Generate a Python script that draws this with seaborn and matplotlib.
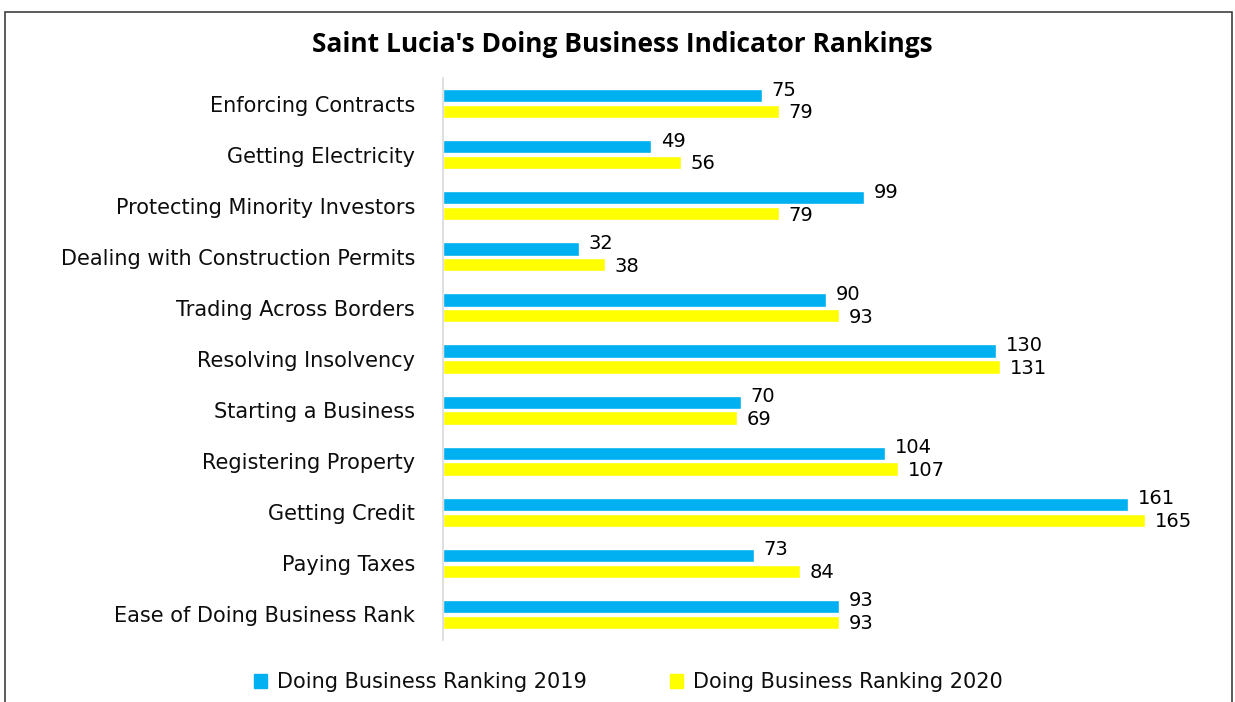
import seaborn as sns
import matplotlib.pyplot as plt
import pandas as pd
from matplotlib.patches import Rectangle

indicators = [
    "Enforcing Contracts",
    "Getting Electricity",
    "Protecting Minority Investors",
    "Dealing with Construction Permits",
    "Trading Across Borders",
    "Resolving Insolvency",
    "Starting a Business",
    "Registering Property",
    "Getting Credit",
    "Paying Taxes",
    "Ease of Doing Business Rank",
]
rank_2019 = [75, 49, 99, 32, 90, 130, 70, 104, 161, 73, 93]
rank_2020 = [79, 56, 79, 38, 93, 131, 69, 107, 165, 84, 93]
series = ["Doing Business Ranking 2019", "Doing Business Ranking 2020"]
colors = ["#00B0F0", "#FFFF00"]

df = pd.DataFrame({
    "Indicator": indicators * 2,
    "Rank": rank_2019 + rank_2020,
    "Series": [series[0]] * len(indicators) + [series[1]] * len(indicators),
})

sns.set_theme(style="white")
plt.rcParams['font.family'] = ['DejaVu Sans']

fig = plt.figure(figsize=(12.35, 7.02), dpi=100)
ax = fig.add_axes([0.3587, 0.0883, 0.62, 0.8006])

sns.barplot(data=df, y="Indicator", x="Rank", hue="Series", order=indicators,
            hue_order=series, palette=colors, orient="h", width=0.62, gap=0.16,
            saturation=1, ax=ax, legend=True)

# value labels: 2019 nudged up, 2020 nudged down
for cont, dy in zip(ax.containers, [4, -1]):
    for bar in cont:
        w = bar.get_width()
        yc = bar.get_y() + bar.get_height() / 2
        ax.annotate(f"{int(w)}", xy=(w, yc), xytext=(7, dy), textcoords="offset points",
                    ha="left", va="center", fontsize=14, color="black")

ax.set_xlim(0, 180)
ax.set_ylim(10.5, -0.5)
ax.set_xlabel("")
ax.set_ylabel("")
ax.set_xticks([])
ax.tick_params(axis="y", length=0, labelsize=15, pad=20, colors="#0d0d0d")
for s in ["top", "right", "bottom"]:
    ax.spines[s].set_visible(False)
ax.spines["left"].set_color("#D9D9D9")
ax.spines["left"].set_linewidth(1.2)

ax.get_legend().remove()
handles = [Rectangle((0, 0), 1, 1, color=c) for c in colors]
leg = fig.legend(handles, series, loc="center", bbox_to_anchor=(0.509, 0.028), ncol=2,
                 frameon=False, fontsize=15, handlelength=0.6, handleheight=0.6,
                 columnspacing=4.0, handletextpad=0.5)
for t in leg.get_texts():
    t.set_color("#0d0d0d")

fig.text(0.504, 0.936, "Saint Lucia's Doing Business Indicator Rankings",
         ha="center", va="center", fontsize=19, fontweight="bold", family="Open Sans",
         color="black")

fig.patches.append(Rectangle((5 / 1235, -0.05), 1227 / 1235, 1.05 - 12 / 702,
                             transform=fig.transFigure, fill=False,
                             edgecolor="#404040", linewidth=1.2))

fig.savefig("out.png", dpi=100)
